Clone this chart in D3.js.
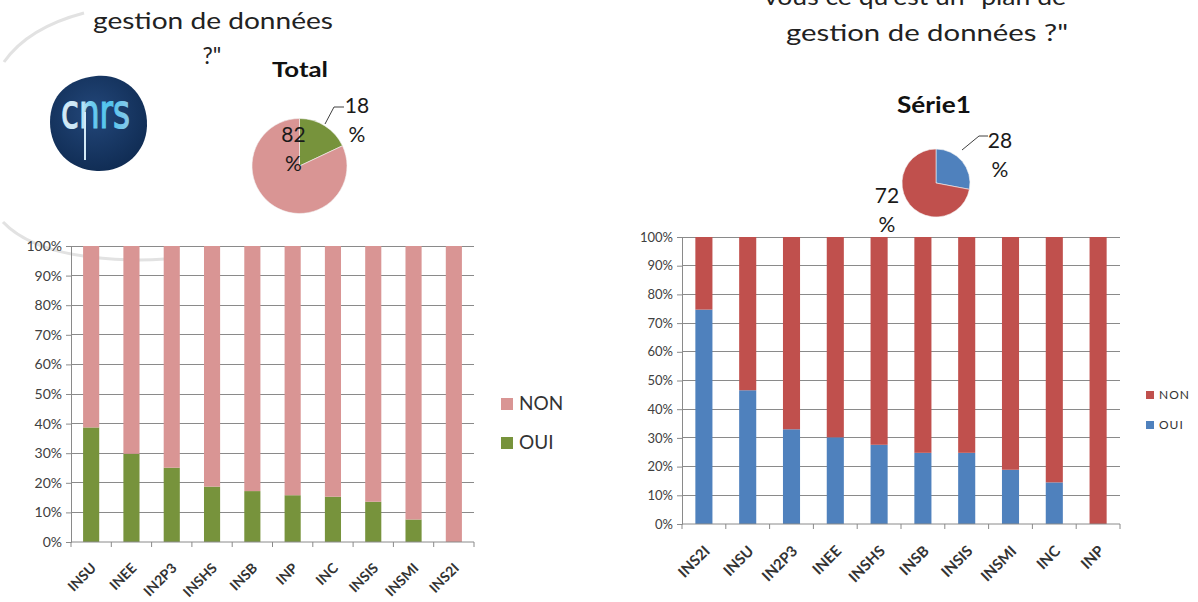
<!DOCTYPE html>
<html><head><meta charset="utf-8">
<script src="https://cdn.jsdelivr.net/npm/d3@7"></script>
<style>
html,body{margin:0;padding:0;background:#fff;}
svg{display:block;font-family:Lato,"Open Sans",sans-serif;}
</style></head>
<body>
<svg id="c" width="1198" height="602"></svg>
<script>
// ---- data ----
const catsLeft = ["INSU","INEE","IN2P3","INSHS","INSB","INP","INC","INSIS","INSMI","INS2I"];
const ouiLeft  = [38.7, 29.8, 25.1, 18.7, 17.2, 15.8, 15.3, 13.6, 7.6, 0];
const nonLeft  = [61.3, 70.2, 74.9, 81.3, 82.8, 84.2, 84.7, 86.4, 92.4, 100];

const catsRight = ["INS2I","INSU","IN2P3","INEE","INSHS","INSB","INSIS","INSMI","INC","INP"];
const ouiRight  = [74.7, 46.6, 33.0, 30.2, 27.6, 24.8, 24.8, 18.9, 14.5, 0];
const nonRight  = [25.3, 53.4, 67.0, 69.8, 72.4, 75.2, 75.2, 81.1, 85.5, 100];

const seriesNames = ["NON","OUI"];
const yTickValues = [0,10,20,30,40,50,60,70,80,90,100];
const yTickLabels = ["0%","10%","20%","30%","40%","50%","60%","70%","80%","90%","100%"];

const pieTotalLabels = ["18 %","82 %"];
const pieTotal = [18, 82];        // OUI, NON
const pieSerieLabels = ["28 %","72 %"];
const pieSerie = [28, 72];        // OUI, NON

const svg = d3.select("#c");

// ---- decorative faint arcs ----
svg.append("path").attr("d","M4,62 C18,42 42,24 84,13")
  .attr("fill","none").attr("stroke","#e2e2e2").attr("stroke-width",3);
svg.append("path").attr("d","M3,222 C20,240 50,252 90,257 C115,260 140,261 165,259")
  .attr("fill","none").attr("stroke","#e2e2e2").attr("stroke-width",3);

// ---- titles ----
svg.append("text").attr("x",213).attr("y",29).attr("text-anchor","middle")
  .attr("font-size",23).attr("fill","#222").attr("textLength",240).attr("lengthAdjust","spacingAndGlyphs")
  .text("gestion de données");
svg.append("text").attr("x",212).attr("y",64).attr("text-anchor","middle")
  .attr("font-size",23).attr("fill","#222").text("?\"");

svg.append("text").attr("x",915).attr("y",5).attr("text-anchor","middle")
  .attr("font-size",24).attr("fill","#222").attr("textLength",302).attr("lengthAdjust","spacingAndGlyphs")
  .text("vous ce qu'est un \"plan de");
svg.append("text").attr("x",927).attr("y",41).attr("text-anchor","middle")
  .attr("font-size",24).attr("fill","#222").attr("textLength",282).attr("lengthAdjust","spacingAndGlyphs")
  .text("gestion de données ?\"");

// ---- CNRS logo ----
const defs = svg.append("defs");
const rg = defs.append("radialGradient").attr("id","logoG").attr("cx","45%").attr("cy","40%").attr("r","65%");
rg.append("stop").attr("offset","0%").attr("stop-color","#23477a");
rg.append("stop").attr("offset","100%").attr("stop-color","#0f2b52");
const tg = defs.append("linearGradient").attr("id","logoT").attr("x1","0").attr("x2","1").attr("y1","0").attr("y2","0");
tg.append("stop").attr("offset","0%").attr("stop-color","#d6ebf7");
tg.append("stop").attr("offset","30%").attr("stop-color","#c8e6f5");
tg.append("stop").attr("offset","45%").attr("stop-color","#6ccbef");
tg.append("stop").attr("offset","70%").attr("stop-color","#4fc4ee");
tg.append("stop").attr("offset","100%").attr("stop-color","#8ccbeb");
svg.append("path")
  .attr("d","M96,76 C126,73 148,96 147,126 C146,153 124,172 97,171 C70,170 50,150 50,122 C50,95 68,79 96,76 Z")
  .attr("fill","url(#logoG)");
svg.append("text").attr("x",61).attr("y",128).attr("font-size",48)
  .attr("font-family","'Liberation Sans Narrow','DejaVu Sans Condensed',sans-serif")
  .attr("fill","url(#logoT)").attr("stroke","url(#logoT)").attr("stroke-width",1.2)
  .attr("textLength",69).attr("lengthAdjust","spacingAndGlyphs").text("cnrs");
svg.append("line").attr("x1",85).attr("x2",85).attr("y1",112).attr("y2",160)
  .attr("stroke","#d3e9f6").attr("stroke-width",2);

// ---- stacked bar chart ----
function drawBars(cfg){
  const g = svg.append("g");
  const x = d3.scaleBand().domain(cfg.cats).range([cfg.x0,cfg.x1])
    .paddingInner(cfg.pad).paddingOuter(cfg.pad/2);
  const y = d3.scaleLinear().domain([0,100]).range([cfg.y1,cfg.y0]);
  // grid
  g.selectAll("line.grid").data(yTickValues.filter(v=>v>0)).join("line")
    .attr("x1",cfg.x0).attr("x2",cfg.x1).attr("y1",d=>y(d)).attr("y2",d=>y(d))
    .attr("stroke","#8a8a8a").attr("stroke-width",1).attr("shape-rendering","crispEdges");
  // y axis
  const ya = d3.axisLeft(y).tickValues(yTickValues).tickSize(5)
    .tickFormat((d,i)=>yTickLabels[i]);
  const yg = g.append("g").attr("transform",`translate(${cfg.x0},0)`).call(ya);
  yg.select(".domain").attr("stroke","#8a8a8a");
  yg.selectAll(".tick line").attr("stroke","#8a8a8a");
  yg.selectAll(".tick text").attr("font-size",cfg.yfs).attr("fill","#404040")
    .attr("font-family","Lato,sans-serif").attr("dx",-1);
  // stacks
  const rows = cfg.cats.map((c,i)=>({cat:c, OUI:cfg.oui[i], NON:cfg.non[i]}));
  const stack = d3.stack().keys(["OUI","NON"])(rows);
  g.selectAll("g.s").data(stack).join("g").attr("fill",d=>cfg.colors[d.key])
    .selectAll("rect").data(d=>d).join("rect")
    .attr("x",d=>x(d.data.cat)).attr("width",x.bandwidth())
    .attr("y",d=>y(d[1])).attr("height",d=>Math.max(0,y(d[0])-y(d[1])));
  // x axis
  const xa = g.append("g").attr("transform",`translate(0,${cfg.y1})`);
  xa.append("line").attr("x1",cfg.x0).attr("x2",cfg.x1).attr("stroke","#8a8a8a");
  const step = x.step();
  xa.selectAll("line.t").data(d3.range(cfg.cats.length+1)).join("line")
    .attr("x1",i=>cfg.x0+i*step).attr("x2",i=>cfg.x0+i*step).attr("y1",0).attr("y2",5)
    .attr("stroke","#8a8a8a");
  xa.selectAll("text").data(cfg.cats).join("text")
    .attr("transform",d=>`translate(${x(d)+x.bandwidth()/2+cfg.lx},${cfg.ly}) rotate(-45)`)
    .attr("text-anchor","end").attr("font-weight","bold").attr("font-size",cfg.xfs)
    .attr("fill","#333").text(d=>d);
  // legend
  const lg = g.append("g");
  ["NON","OUI"].forEach((k,i)=>{
    lg.append("rect").attr("x",cfg.legX).attr("y",cfg.legY+i*cfg.legDy)
      .attr("width",cfg.legS).attr("height",cfg.legS).attr("fill",cfg.colors[k]);
    lg.append("text").attr("x",cfg.legX+cfg.legS+cfg.legGap).attr("y",cfg.legY+i*cfg.legDy+cfg.legS-0.5)
      .attr("font-size",cfg.legFs).attr("fill","#333").attr("letter-spacing",cfg.legLs)
      .text(seriesNames[i]);
  });
}

drawBars({cats:catsLeft, oui:ouiLeft, non:nonLeft, x0:71, x1:474, y0:246, y1:542, pad:0.6,
  colors:{OUI:"#77933c",NON:"#d99594"}, yfs:14, xfs:14, lx:6, ly:27,
  legX:501, legY:398, legDy:39, legS:12, legGap:6, legFs:19, legLs:0});

drawBars({cats:catsRight, oui:ouiRight, non:nonRight, x0:682, x1:1120, y0:237, y1:524, pad:0.61,
  colors:{OUI:"#4f81bd",NON:"#c0504d"}, yfs:13, xfs:15, lx:7, ly:28,
  legX:1146, legY:391, legDy:30, legS:8, legGap:5, legFs:12, legLs:1});

// ---- pies ----
function drawPie(cfg){
  const g = svg.append("g").attr("transform",`translate(${cfg.cx},${cfg.cy})`);
  const arcs = d3.pie().sort(null)(cfg.values);
  const arc = d3.arc().innerRadius(0).outerRadius(cfg.r);
  g.selectAll("path").data(arcs).join("path").attr("d",arc)
    .attr("fill",(d,i)=>cfg.colors[i]).attr("stroke","#f4f4f4").attr("stroke-width",0.6);
  svg.append("text").attr("x",cfg.tx).attr("y",cfg.ty).attr("text-anchor","middle")
    .attr("font-weight","bold").attr("font-size",cfg.tfs).attr("fill","#111")
    .attr("textLength",cfg.tlen).attr("lengthAdjust","spacingAndGlyphs").text(cfg.title);
  cfg.labels.forEach((lab,i)=>{
    const parts = lab.split(" ");
    const p = cfg.labelPos[i];
    parts.forEach((t,j)=>{
      svg.append("text").attr("x",p[0]).attr("y",p[1]+j*29).attr("text-anchor","middle")
        .attr("font-size",cfg.lfs).attr("fill","#1a1a1a").text(t);
    });
  });
  svg.append("path").attr("d",cfg.leader).attr("fill","none").attr("stroke","#404040").attr("stroke-width",1);
}

drawPie({cx:299.5, cy:166, r:47.5, values:pieTotal, colors:["#77933c","#d99594"],
  title:"Total", tx:300, ty:77, tfs:20, tlen:56,
  labels:pieTotalLabels, labelPos:[[357,113],[293.5,142]], lfs:21,
  leader:"M325,124 L334,107 L344,107"});

drawPie({cx:936, cy:183, r:34, values:pieSerie, colors:["#4f81bd","#c0504d"],
  title:"Série1", tx:934, ty:113, tfs:22, tlen:74,
  labels:pieSerieLabels, labelPos:[[1000,148],[887,203]], lfs:21,
  leader:"M962,150 L979,136 L988,136"});
</script>
</body></html>
